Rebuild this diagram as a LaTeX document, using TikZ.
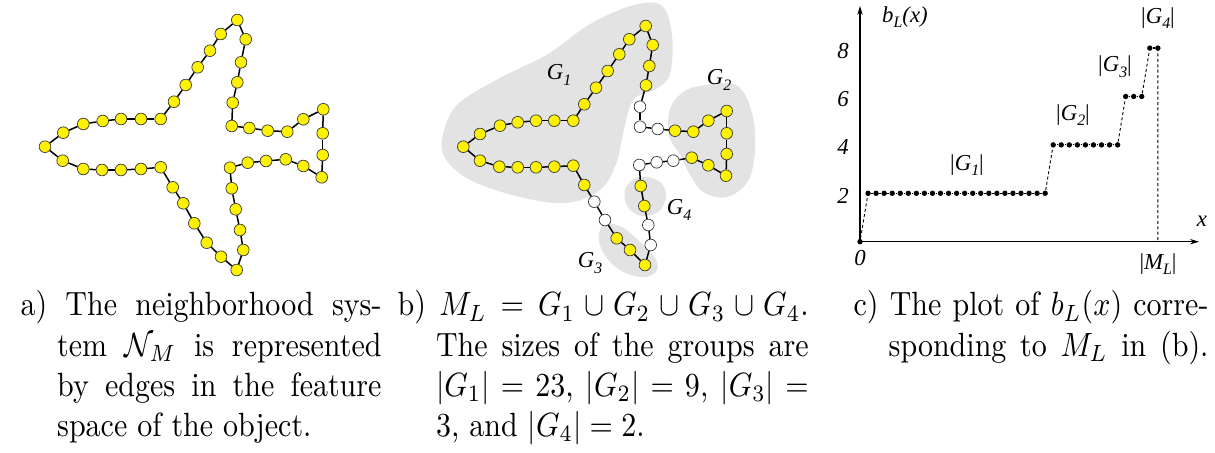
\documentclass[tikz,border=0pt]{standalone}
\usepackage{fontspec}
\usepackage{graphicx}
\newfontfamily\labfont{Liberation Serif}
\usetikzlibrary{arrows.meta}
\newcommand{\lsub}[1]{\raisebox{-0.55ex}{\fontsize{5.3}{5}\selectfont #1}}
\newcommand{\lab}[1]{{\labfont\itshape\fontsize{7.6}{8}\selectfont #1}}
\begin{document}
\begin{tikzpicture}[x=0.33333pt,y=-0.33333pt,
  vnode/.style={circle,draw=black!75,line width=0.25pt,inner sep=0pt,minimum size=3.9pt},
  ynode/.style={vnode,fill=yellow},
  wnode/.style={vnode,fill=white},
  edge/.style={line width=0.5pt,black},
  blob/.style={fill=black!11,draw=none},
  pdot/.style={circle,fill=black,inner sep=0pt,minimum size=1.8pt},
  pline/.style={line width=0.4pt},
  pdash/.style={line width=0.3pt,dash pattern=on 1pt off 0.8pt},
  axis/.style={line width=0.35pt,-{Stealth[length=3pt,width=1.8pt]}},
  txt/.style={inner sep=0pt},
  captext/.style={anchor=base west,inner sep=0pt}]
\useasboundingbox (0,0) rectangle (1215,453);

% ---------- panel a ----------
\foreach \x/\y [count=\i] in {45.0/146.7, 63.3/132.7, 83.3/124.0, 102.7/121.0, 121.0/119.0, 141.0/119.0, 160.7/119.0, 174.0/101.7, 185.7/85.0, 197.7/67.3, 210.0/50.7, 220.7/34.0, 237.3/20.0, 245.7/39.3, 241.0/62.3, 237.3/82.3, 232.7/102.7, 231.7/126.0, 249.3/128.0, 267.7/130.7, 287.3/131.7, 303.3/119.3, 323.3/109.3, 322.7/133.3, 322.7/155.0, 321.7/177.3, 303.3/166.0, 285.7/159.3, 266.0/161.0, 247.7/162.7, 230.0/167.7, 231.7/188.3, 235.7/209.3, 240.0/230.0, 243.3/250.0, 236.7/270.0, 221.0/256.7, 206.7/242.7, 194.3/223.3, 183.3/203.3, 172.7/187.3, 160.7/167.3, 141.0/169.0, 121.0/170.0, 102.0/170.0, 83.3/169.0, 62.7/160.7}
  \node[ynode] (a\i) at (\x,\y) {};
\foreach \i [remember=\i as \j (initially 47)] in {1,...,47}
  \draw[edge] (a\j) -- (a\i);

% ---------- panel b ----------
\fill[blob] plot[smooth cycle,tension=0.6] coordinates {(442,140) (456,106) (498,79) (548,54) (590,24) (634,5) (662,6) (672,35) (670,74) (656,89) (634,99) (625,125) (616,164) (600,190) (566,203) (520,197) (472,181) (447,161)};
\fill[blob] plot[smooth cycle,tension=0.6] coordinates {(700,86) (736,85) (752,113) (755,150) (748,181) (727,197) (703,192) (689,173) (681,156) (669,136) (670,109) (682,93)};
\fill[blob] plot[smooth cycle,tension=0.6] coordinates {(648,177) (662,184) (666,198) (658,212) (641,216) (627,206) (625,190) (634,179)};
\fill[blob] plot[smooth cycle,tension=0.6] coordinates {(606,224) (622,227) (640,242) (655,258) (657,270) (646,277) (628,274) (612,264) (601,248) (599,233)};

\foreach \x/\y/\s [count=\i] in {463.3/146.7/ynode, 480/134/ynode, 500/125.7/ynode, 517.7/122.3/ynode, 536/120.7/ynode, 554.3/120.7/ynode, 573.3/120.7/ynode, 584.3/104.3/ynode, 596/87.7/ynode, 607.7/71/ynode, 619.3/54.3/ynode, 629.3/39.3/ynode, 645.7/26/ynode, 652.7/45/ynode, 649.3/66/ynode, 646/85.3/ynode, 640/106.7/wnode, 640/126.7/wnode, 657.7/129/wnode, 675/130.7/ynode, 693.3/131.7/ynode, 708.3/120.7/ynode, 726.7/111/ynode, 726.7/133.3/ynode, 726.7/154/ynode, 726/175.7/ynode, 708.3/165.3/ynode, 691.7/157.7/ynode, 673.3/160.7/wnode, 656.7/162.3/wnode, 639.3/165/wnode, 640.7/186/ynode, 644.3/206/ynode, 648.3/225/wnode, 650.7/245/wnode, 645/265/ynode, 630/250/ynode, 616.7/238.3/ynode, 605/220/wnode, 594.3/201.7/wnode, 584.3/185/ynode, 573.3/165.7/ynode, 554.3/166.7/ynode, 536/167.3/ynode, 517.7/167.3/ynode, 499.3/166.7/ynode, 480/160.7/ynode}
  \node[\s] (b\i) at (\x,\y) {};
\foreach \i [remember=\i as \j (initially 47)] in {1,...,47}
  \draw[edge] (b\j) -- (b\i);

\node[txt] (g1) at (559,75) {\lab{G\lsub{1}}};
\node[txt] (g2) at (719,80) {\lab{G\lsub{2}}};
\node[txt] (g4) at (679,210) {\lab{G\lsub{4}}};
\node[txt] (g3) at (590,263) {\lab{G\lsub{3}}};

% ---------- panel c ----------
\node[pdot] (p0) at (860,241.7) {};
\coordinate (ytop) at (860,6);
\coordinate (xend) at (1199,241.7);
\draw[axis] (p0.center) -- (ytop);
\draw[axis] (p0.center) -- (xend);
\foreach \k in {1,...,23} \node[pdot] (p\k) at ({860+8.05*\k},193.3) {};
\foreach \k in {24,...,32} \node[pdot] (p\k) at ({860+8.05*\k},144.9) {};
\foreach \k in {33,...,35} \node[pdot] (p\k) at ({860+8.05*\k},96.5) {};
\foreach \k in {36,37} \node[pdot] (p\k) at ({860+8.05*\k},48.1) {};
\foreach \k [evaluate=\k as \n using int(\k+1)] in {1,...,22} \draw[pline] (p\k) -- (p\n);
\foreach \k [evaluate=\k as \n using int(\k+1)] in {24,...,31} \draw[pline] (p\k) -- (p\n);
\foreach \k [evaluate=\k as \n using int(\k+1)] in {33,34,36} \draw[pline] (p\k) -- (p\n);
\coordinate (mL) at (1157.85,241.7);
\draw[pdash] (p0) -- (p1);
\draw[pdash] (p23) -- (p24);
\draw[pdash] (p32) -- (p33);
\draw[pdash] (p35) -- (p36);
\draw[pdash] (p37.center) -- (mL);

\node[txt] (ylab) at (905,17) {\lab{b\lsub{L}(x)}};
\node[txt] (t8) at (843,51) {\lab{8}};
\node[txt] (t6) at (843,99) {\lab{6}};
\node[txt] (t4) at (843,147) {\lab{4}};
\node[txt] (t2) at (843,196) {\lab{2}};
\node[txt] (t0) at (860,258) {\lab{0}};
\node[txt] (xlab) at (1202,221) {\lab{x}};
\node[txt] (ml) at (1158,264) {\lab{\upshape|\itshape M\lsub{L}\upshape|}};
\node[txt] (lg1) at (967,165) {\lab{\upshape|\itshape G\lsub{1}\upshape|}};
\node[txt] (lg2) at (1073,115) {\lab{\upshape|\itshape G\lsub{2}\upshape|}};
\node[txt] (lg3) at (1115,67) {\lab{\upshape|\itshape G\lsub{3}\upshape|}};
\node[txt] (lg4) at (1158,18) {\lab{\upshape|\itshape G\lsub{4}\upshape|}};

% ---------- captions ----------
\node[captext] (capa) at (20,316) {\scalebox{1}[1.12]{\parbox[t]{120.3pt}{\hangindent=12.2pt\hangafter=1 a)~The neighborhood sys-\linebreak tem $\mathcal{N}_M$ is represented\linebreak by edges in the feature\linebreak space of the object.}}};
\node[captext] (capb) at (397,316) {\scalebox{1}[1.12]{\parbox[t]{137pt}{\hangindent=12.8pt\hangafter=1 b)~$M_L = G_1 \cup G_2 \cup G_3 \cup G_4$.\linebreak The sizes of the groups are\linebreak $|G_1| = 23$, $|G_2| = 9$, $|G_3| =$\linebreak 3, and $|G_4| = 2$.}}};
\node[captext] (capc) at (853,316) {\scalebox{1}[1.12]{\parbox[t]{118.3pt}{\hangindent=11.7pt\hangafter=1\parfillskip=0pt c)~The plot of $b_L(x)$ corre-\linebreak sponding to $M_L$ in (b).}}};
\end{tikzpicture}
\end{document}
